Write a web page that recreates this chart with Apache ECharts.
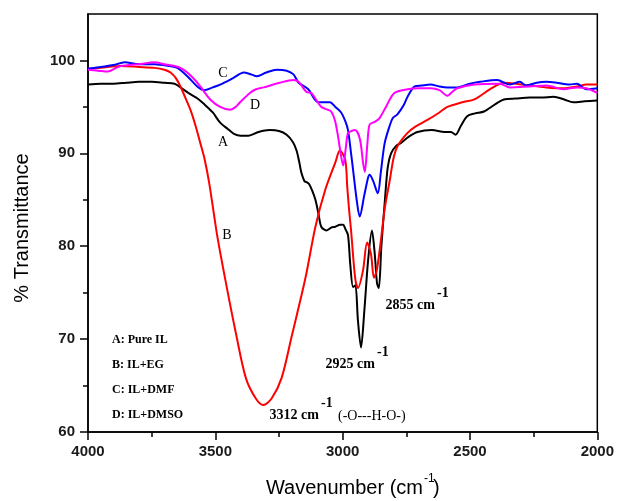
<!DOCTYPE html>
<html>
<head>
<meta charset="utf-8">
<script src="https://cdn.jsdelivr.net/npm/echarts@6/dist/echarts.min.js"></script>
<style>
    html,body{margin:0;padding:0;background:#fff;}
    #ftir{width:617px;height:501px;}
</style>
</head>
<body>
<div id="ftir"></div>
<script>
    // [wavenumber (cm-1), % transmittance]
    const pureIL = [[4000,97.4],[3950,97.5],[3900,97.5],[3850,97.6],[3800,97.7],[3750,97.7],[3700,97.6],[3660,97.5],[3637,97.1],[3600,96.4],[3570,95.9],[3544,95.3],[3510,94.4],[3481,93.3],[3450,92.6],[3427,92.1],[3400,91.9],[3370,91.9],[3330,92.3],[3287,92.5],[3250,92.4],[3220,92.0],[3195,91.2],[3181,90.3],[3170,89.0],[3162,87.9],[3150,87.0],[3142,86.9],[3132,86.7],[3120,86.0],[3107,85.0],[3095,83.5],[3084,82.1],[3064,81.7],[3045,82.0],[3029,82.1],[3010,82.3],[2998,82.3],[2990,81.9],[2979,81.2],[2970,78.0],[2959,75.6],[2950,75.8],[2940,72.0],[2928,69.1],[2915,73.0],[2900,78.5],[2885,81.7],[2875,79.5],[2865,76.0],[2858,75.5],[2848,80.0],[2834,85.0],[2823,88.5],[2810,90.0],[2790,90.8],[2772,91.1],[2740,91.8],[2706,92.3],[2650,92.5],[2600,92.3],[2575,92.3],[2557,92.0],[2535,93.0],[2511,94.0],[2480,94.3],[2445,94.5],[2400,95.3],[2367,95.8],[2320,95.9],[2265,96.0],[2220,96.0],[2172,96.1],[2130,95.8],[2094,95.5],[2050,95.6],[2000,95.7]];
    const ilEG = [[4000,99.1],[3950,99.2],[3871,99.4],[3800,99.3],[3739,99.2],[3700,99.0],[3676,98.7],[3655,98.1],[3637,97.2],[3618,96.0],[3598,94.7],[3578,93.0],[3559,91.1],[3544,89.6],[3524,86.8],[3493,81.2],[3458,76.0],[3419,70.6],[3380,65.8],[3341,63.6],[3312,62.9],[3279,63.6],[3240,65.8],[3201,70.2],[3146,76.6],[3107,82.1],[3068,86.1],[3029,89.0],[3011,90.3],[2990,89.3],[2982,86.4],[2975,84.0],[2967,81.7],[2951,76.6],[2940,75.5],[2920,77.4],[2904,80.4],[2889,79.2],[2877,76.6],[2866,77.4],[2850,80.6],[2834,84.2],[2815,87.1],[2800,89.5],[2784,90.8],[2745,92.2],[2713,92.9],[2667,93.6],[2620,94.4],[2589,95.0],[2530,95.5],[2483,95.8],[2421,96.9],[2367,97.6],[2320,97.5],[2265,97.3],[2200,97.1],[2133,97.0],[2080,97.2],[2043,97.4],[2000,97.4]];
    const ilDMF = [[4000,99.1],[3950,99.3],[3900,99.5],[3856,99.8],[3800,99.6],[3739,99.6],[3680,99.4],[3649,99.2],[3610,98.3],[3571,97.2],[3544,96.8],[3510,97.1],[3481,97.4],[3430,98.1],[3388,98.7],[3360,98.5],[3337,98.3],[3300,98.7],[3259,99.0],[3220,98.9],[3193,98.5],[3173,97.6],[3135,96.9],[3096,95.5],[3050,95.5],[3029,95.0],[3006,94.4],[2990,93.5],[2979,92.5],[2967,90.0],[2959,88.2],[2945,85.0],[2933,83.2],[2915,85.5],[2900,87.4],[2894,87.7],[2880,87.0],[2862,85.7],[2850,88.0],[2835,91.1],[2815,93.0],[2803,93.8],[2785,94.2],[2760,95.2],[2745,96.1],[2717,97.2],[2690,97.3],[2655,97.4],[2620,97.2],[2589,97.1],[2550,97.1],[2500,97.5],[2460,97.7],[2394,97.9],[2343,97.4],[2304,97.7],[2280,97.3],[2238,97.6],[2200,97.7],[2160,97.6],[2110,97.4],[2080,97.5],[2043,96.9],[2000,97.0]];
    const ilDMSO = [[4000,99.0],[3960,98.9],[3922,98.8],[3890,99.2],[3871,99.4],[3800,99.6],[3739,99.8],[3700,99.6],[3660,99.4],[3630,99.1],[3610,98.7],[3580,97.9],[3559,97.2],[3520,95.8],[3481,95.0],[3442,94.7],[3420,95.0],[3403,95.5],[3364,96.5],[3340,96.9],[3310,97.1],[3248,97.6],[3193,97.9],[3173,97.7],[3142,96.6],[3123,96.5],[3100,95.6],[3084,95.0],[3060,94.7],[3045,94.5],[3030,93.5],[3018,91.8],[3008,90.0],[2998,88.7],[2988,90.5],[2979,92.2],[2965,92.4],[2951,92.5],[2932,91.5],[2920,89.0],[2913,88.0],[2903,91.0],[2894,93.1],[2873,93.4],[2855,93.8],[2830,95.0],[2797,96.5],[2745,96.9],[2700,97.0],[2655,97.0],[2620,96.8],[2589,96.2],[2570,96.6],[2550,97.0],[2483,97.4],[2382,97.5],[2343,97.1],[2265,97.2],[2200,97.3],[2133,96.9],[2080,97.1],[2043,97.0],[2000,96.5]];

    const seriesNames = ['A','B','C','D'];
    const seriesColors = ['#000000','#ff0000','#0000ff','#ff00ff'];
    const legendLines = ['A: Pure IL','B: IL+EG','C: IL+DMF','D: IL+DMSO'];
    const yMajorTicks = [60,70,80,90,100];
    const yMinorTicks = [65,75,85,95];

    const tickFont = {color:'#1a1a1a',fontFamily:'Liberation Sans, Arial, sans-serif',fontWeight:'bold',fontSize:15};
    const serif = 'Liberation Serif, Times New Roman, serif';

    function txt(x,y,text,font,align,extra){
        return Object.assign({
            type:'text',x:x,y:y,silent:true,
            style:{text:text,font:font,fill:'#000',align:align||'left',verticalAlign:'middle'}
        },extra||{});
    }

    let chart=echarts.init(document.getElementById('ftir'),null,{renderer:'canvas'});
    let option={
        animation:false,
        backgroundColor:'#fff',
        grid:{left:88,right:17,top:14,bottom:69,show:true,borderColor:'#000',borderWidth:1.5},
        xAxis:{
            type:'value',min:2000,max:4000,interval:500,inverse:true,
            axisLine:{lineStyle:{color:'#000',width:1.5}},
            axisTick:{length:8,lineStyle:{color:'#000',width:1.5}},
            minorTick:{show:true,splitNumber:2,length:5,lineStyle:{color:'#000',width:1.5}},
            splitLine:{show:false},
            axisLabel:Object.assign({margin:12,formatter:(v)=>String(v)},tickFont)
        },
        yAxis:[{
            type:'value',min:60,max:105,interval:10,
            axisLine:{lineStyle:{color:'#000',width:1.5}},
            axisTick:{length:8,customValues:yMajorTicks,lineStyle:{color:'#000',width:1.5}},
            splitLine:{show:false},
            axisLabel:Object.assign({margin:13,customValues:yMajorTicks},tickFont)
        },{
            type:'value',min:60,max:105,position:'left',
            axisLine:{show:false},
            axisTick:{length:5,customValues:yMinorTicks,lineStyle:{color:'#000',width:1.5}},
            axisLabel:{show:false},
            splitLine:{show:false}
        }],
        series:[pureIL,ilEG,ilDMF,ilDMSO].map((d,i)=>({
            name:seriesNames[i],
            type:'line',
            data:d,
            smooth:0.3,
            showSymbol:false,
            lineStyle:{color:seriesColors[i],width:2},
            z:2+i
        })),
        graphic:[
            // axis titles
            txt(22,228,'% Transmittance','20px Liberation Sans, Arial, sans-serif','center',{rotation:Math.PI/2}),
            txt(423,488,'Wavenumber (cm','20px Liberation Sans, Arial, sans-serif','right'),
            txt(424,479,'-1','12px Liberation Sans, Arial, sans-serif','left'),
            txt(433,488,')','20px Liberation Sans, Arial, sans-serif','left'),
            // curve letters
            txt(223,73,'C','14px '+serif,'center'),
            txt(255,105,'D','14px '+serif,'center'),
            txt(223,142,'A','14px '+serif,'center'),
            txt(227,235,'B','14px '+serif,'center'),
            // legend block
            txt(112,340,legendLines[0],'bold 12px '+serif),
            txt(112,365,legendLines[1],'bold 12px '+serif),
            txt(112,390,legendLines[2],'bold 12px '+serif),
            txt(112,415,legendLines[3],'bold 12px '+serif),
            // peak labels
            txt(375,364,'2925 cm','bold 14px '+serif,'right'),
            txt(377,352,'-1','bold 14px '+serif),
            txt(435,305,'2855 cm','bold 14px '+serif,'right'),
            txt(437,293,'-1','bold 14px '+serif),
            txt(319,415,'3312 cm','bold 14px '+serif,'right'),
            txt(321,403,'-1','bold 14px '+serif),
            txt(338,416,'(-O---H-O-)','14px '+serif)
        ]
    };
    chart.setOption(option);
    window.addEventListener('resize',chart.resize);
</script>
</body>
</html>
